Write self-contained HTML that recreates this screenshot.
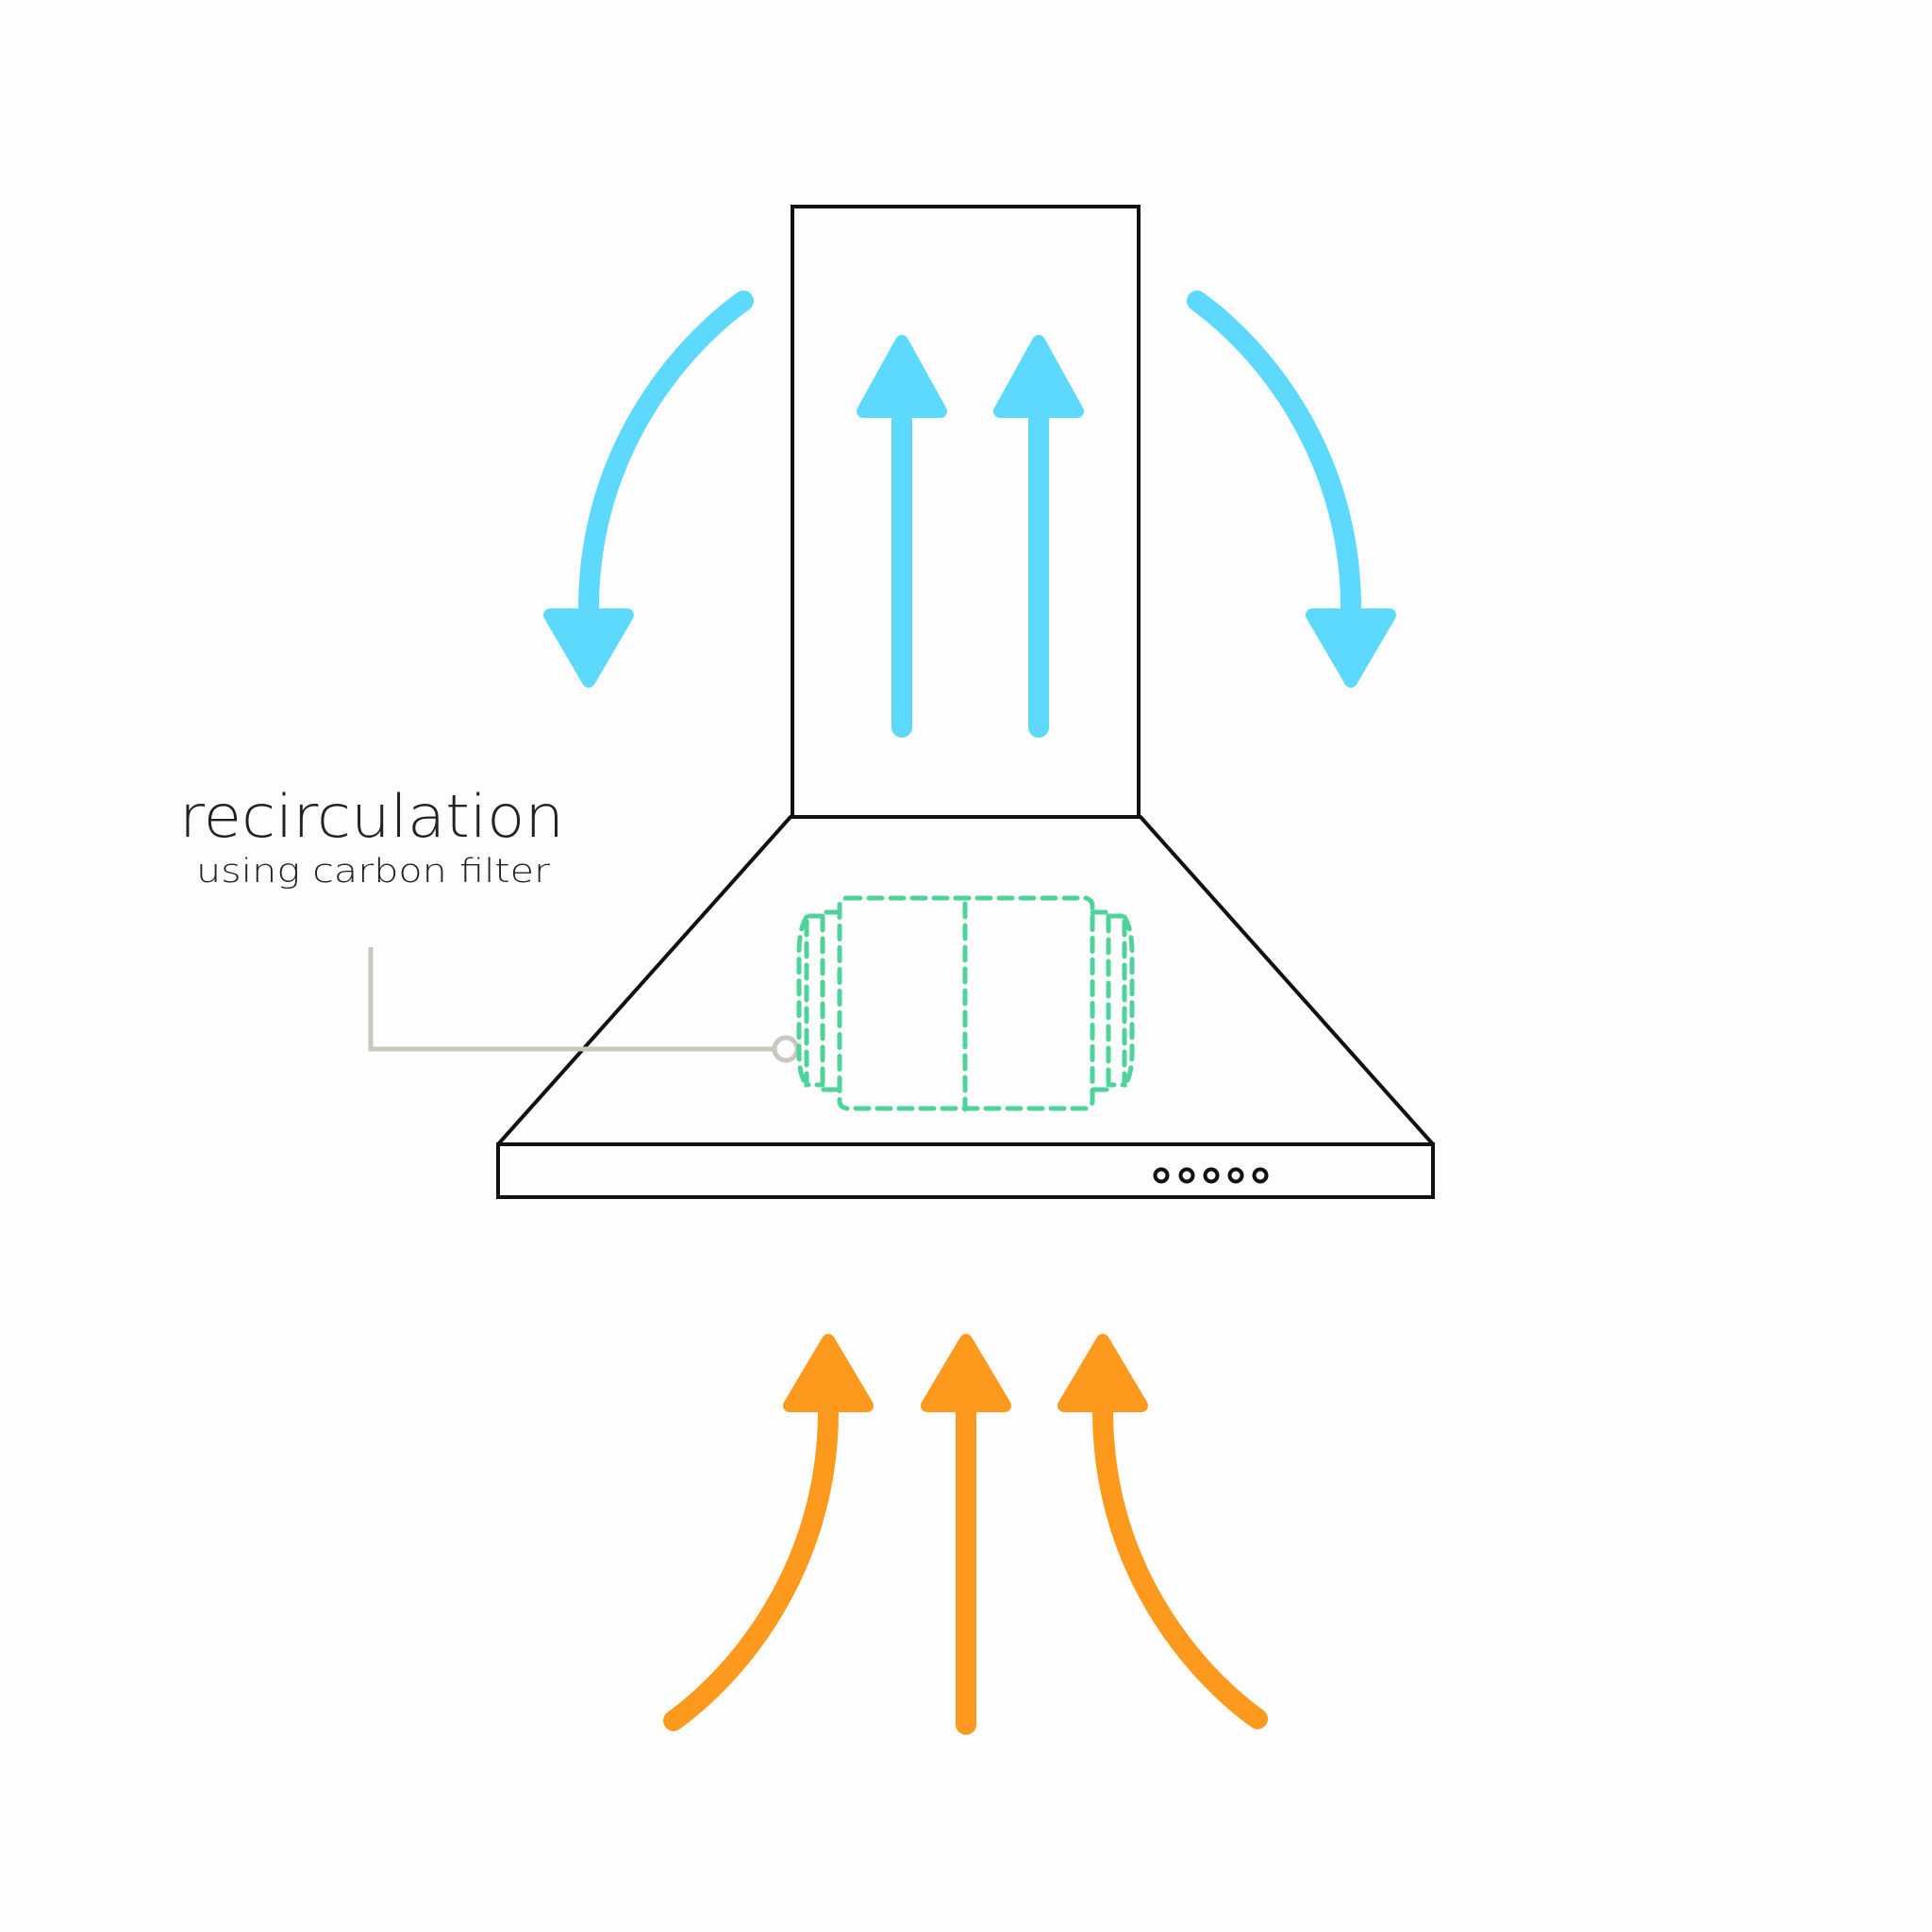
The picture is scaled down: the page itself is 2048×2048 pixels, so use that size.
<!DOCTYPE html>
<html><head><meta charset="utf-8"><style>
html,body{margin:0;padding:0;background:#fdfdfd;}
svg{display:block}
</style></head><body>
<svg width="2048" height="2048" viewBox="0 0 2048 2048" xmlns="http://www.w3.org/2000/svg">
<rect width="2048" height="2048" fill="#fdfdfd"/>
<!-- chimney -->
<rect x="840" y="219" width="367" height="647" fill="none" stroke="#111" stroke-width="4"/>
<!-- hood -->
<polygon points="838,866 1209,866 1519,1213 528,1213" fill="none" stroke="#111" stroke-width="4" stroke-linejoin="round"/>
<rect x="528" y="1213" width="991" height="56" fill="none" stroke="#111" stroke-width="4"/>
<g fill="none" stroke="#111" stroke-width="4">
<circle cx="1231" cy="1246" r="6.5"/><circle cx="1258" cy="1246" r="6.5"/><circle cx="1284" cy="1246" r="6.5"/><circle cx="1310" cy="1246" r="6.5"/><circle cx="1336" cy="1246" r="6.5"/>
</g>
<!-- text -->
<text x="190" y="887" font-family="DejaVu Sans, Liberation Sans, sans-serif" font-weight="200" font-size="62" fill="#222" textLength="408" lengthAdjust="spacingAndGlyphs">recirculation</text>
<text x="208" y="935" font-family="DejaVu Sans, Liberation Sans, sans-serif" font-weight="200" font-size="35" fill="#222" textLength="375" lengthAdjust="spacingAndGlyphs">using carbon filter</text>
<!-- gray leader -->
<polyline points="393,1004 393,1112 820,1112" fill="none" stroke="#c8c8c0" stroke-width="5"/>
<circle cx="833" cy="1112" r="12" fill="#fdfdfd" stroke="#c8c8c0" stroke-width="5"/>
<!-- green filter -->
<g fill="none" stroke="#4fd39a" stroke-width="5" stroke-dasharray="14 9" stroke-linecap="round">
<rect x="890" y="952" width="268" height="223" rx="8"/>
<line x1="1023" y1="958" x2="1023" y2="1176"/>
<path d="M890,967 H872 V1155 H890"/>
<path d="M872,971 H855 V1150 H872"/>
<path d="M855,972 Q847,985 847,1010 V1115 Q847,1140 855,1150"/>
<path d="M1158,967 H1175 V1155 H1158"/>
<path d="M1175,971 H1192 V1150 H1175"/>
<path d="M1192,972 Q1200,985 1200,1010 V1115 Q1200,1140 1192,1150"/>
</g>
<!-- blue arrows -->
<g stroke="#5dd9fe" fill="#5dd9fe" stroke-linecap="round" stroke-linejoin="round">
<line x1="956" y1="771" x2="956" y2="440" stroke-width="22"/>
<polygon points="956,362 915,436 997,436" stroke-width="14"/>
<line x1="1101" y1="771" x2="1101" y2="440" stroke-width="22"/>
<polygon points="1101,362 1060,436 1142,436" stroke-width="14"/>
<path d="M788,319 C720,368 624,480 624,645" fill="none" stroke-width="22"/>
<polygon points="624,722 583,652 665,652" stroke-width="14"/>
<path d="M1269,319 C1337,368 1432,480 1432,645" fill="none" stroke-width="22"/>
<polygon points="1432,722 1391,652 1473,652" stroke-width="14"/>
</g>
<!-- orange arrows -->
<g stroke="#fd9a1e" fill="#fd9a1e" stroke-linecap="round" stroke-linejoin="round">
<line x1="1024" y1="1828" x2="1024" y2="1495" stroke-width="22"/>
<polygon points="1024,1421 983,1490 1065,1490" stroke-width="14"/>
<path d="M714,1824 C782,1775 878,1662 878,1495" fill="none" stroke-width="22"/>
<polygon points="878,1421 837,1490 919,1490" stroke-width="14"/>
<path d="M1333,1822 C1265,1773 1169,1662 1169,1495" fill="none" stroke-width="22"/>
<polygon points="1169,1421 1128,1490 1210,1490" stroke-width="14"/>
</g>
</svg>
</body></html>
